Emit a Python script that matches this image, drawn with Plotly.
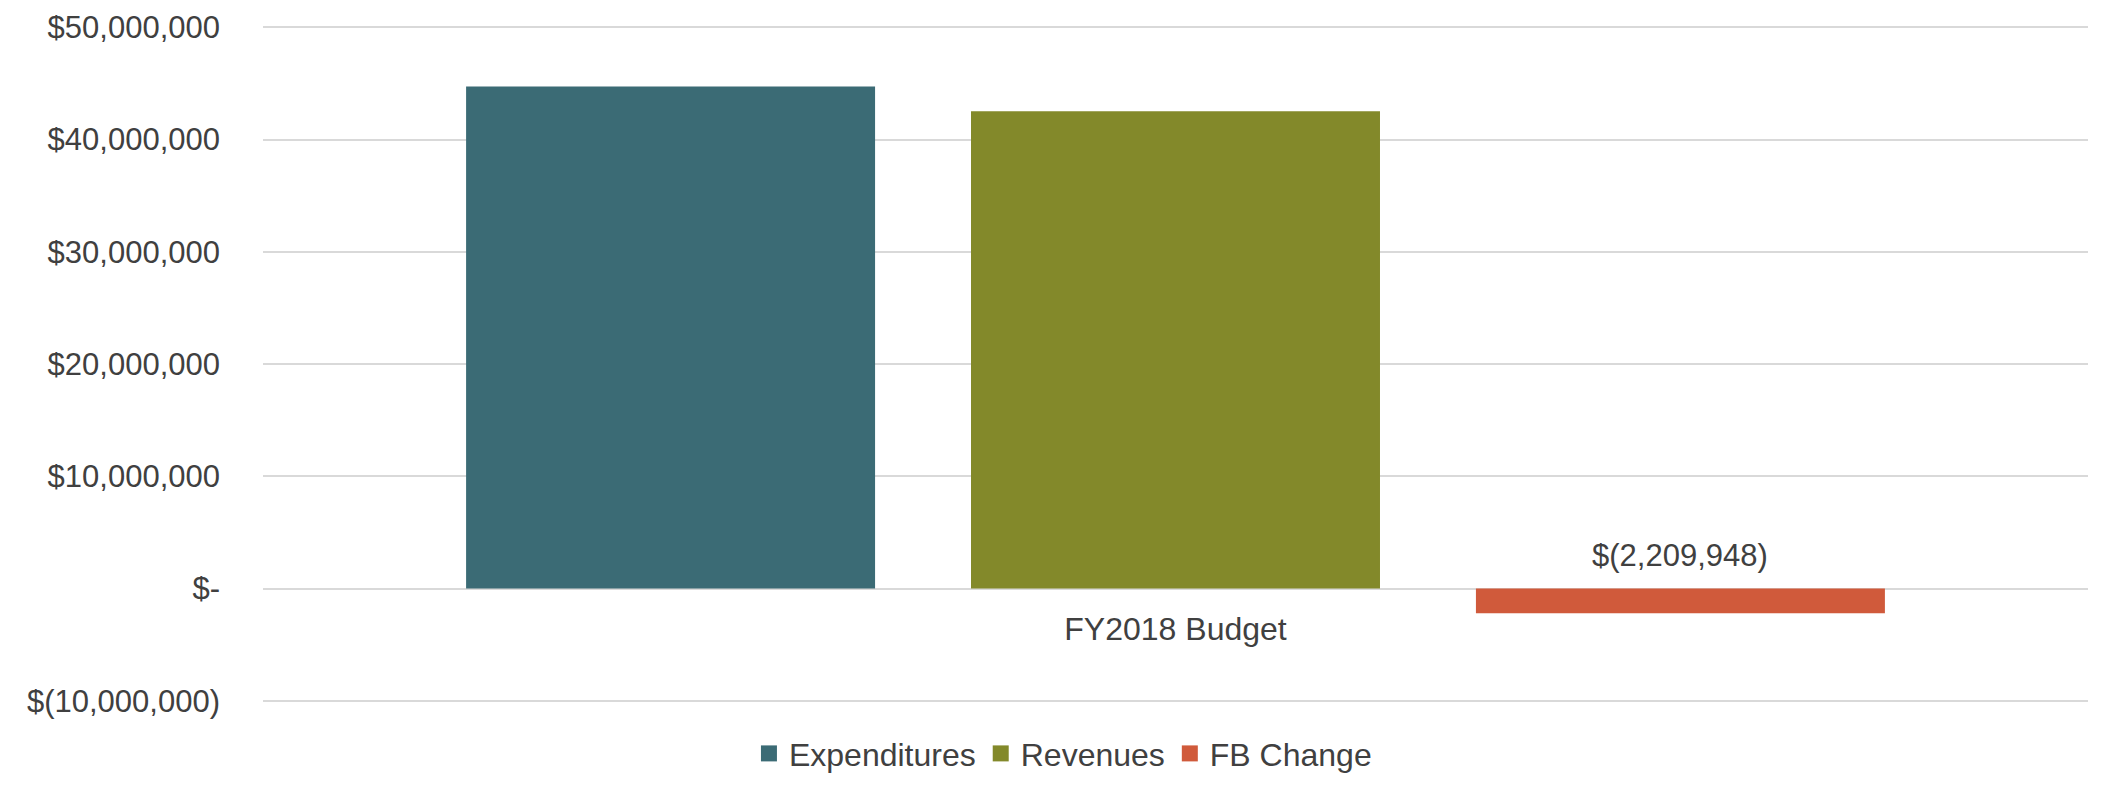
import plotly.graph_objects as go

categories = ["FY2018 Budget"]
expenditures = [44720000]
revenues = [42510052]
fb_change = [-2209948]
fb_label = "$(2,209,948)"

series_names = ["Expenditures", "Revenues", "FB Change"]
series_values = [expenditures, revenues, fb_change]
series_colors = ["#3b6b75", "#83892a", "#d05a3b"]

tick_vals = [-10000000, 0, 10000000, 20000000, 30000000, 40000000, 50000000]
tick_text = ["$(10,000,000)", "$-", "$10,000,000", "$20,000,000", "$30,000,000",
             "$40,000,000", "$50,000,000"]

FONT = "Liberation Sans, Arial, sans-serif"
TXT = "#404040"
FS = 31

W, H = 2112, 800
ML, MR, MT, MB = 255, 32, 17, 105
BARGAP = 0.17
BARGROUPGAP = 0.19
PAD = 200000  # small range padding so edge gridlines are drawn

fig = go.Figure()
for name, vals, col in zip(series_names, series_values, series_colors):
    fig.add_trace(go.Bar(x=categories, y=vals, name=name, marker_color=col,
                         marker_line_width=0, showlegend=False,
                         legendgroup=name))
# legend entries with larger square swatches (like the original)
for name, col in zip(series_names, series_colors):
    fig.add_trace(go.Scatter(x=[categories[0]], y=[None], name=name,
                             mode="markers", legendgroup=name,
                             marker=dict(symbol="square", size=16, color=col),
                             hoverinfo="skip", showlegend=True))

ymin, ymax = tick_vals[0] - PAD, tick_vals[-1] + PAD
plot_w = W - ML - MR
slot = plot_w * (1 - BARGAP) / len(series_names)

fig.add_annotation(x=categories[0], y=0, text=fb_label, showarrow=False,
                   xshift=slot, yshift=14, yanchor="bottom",
                   font=dict(family=FONT, size=FS, color=TXT))

fig.update_layout(
    width=W, height=H,
    margin=dict(l=ML, r=MR, t=MT, b=MB, autoexpand=False),
    paper_bgcolor="white", plot_bgcolor="white",
    barmode="group", bargap=BARGAP, bargroupgap=BARGROUPGAP,
    font=dict(family=FONT, size=FS, color=TXT),
    showlegend=True,
    legend=dict(orientation="h", xref="container", x=0.4995, xanchor="center",
                yref="container", y=0.068, yanchor="middle",
                font=dict(family=FONT, size=32, color=TXT),
                itemwidth=30, tracegroupgap=0),
    xaxis=dict(anchor="free", position=(0 - ymin) / (ymax - ymin),
               showline=False, showgrid=False, ticks="", zeroline=False,
               automargin=False, ticklabelstandoff=18,
               tickfont=dict(family=FONT, size=32, color=TXT)),
    yaxis=dict(range=[ymin, ymax], tickvals=tick_vals, ticktext=tick_text,
               showgrid=True, gridcolor="#d9d9d9", gridwidth=2,
               zeroline=True, zerolinecolor="#d9d9d9", zerolinewidth=2,
               showline=False, ticks="", ticklabelstandoff=42,
               automargin=False,
               tickfont=dict(family=FONT, size=FS, color=TXT)),
)

fig.write_html("out.html")
